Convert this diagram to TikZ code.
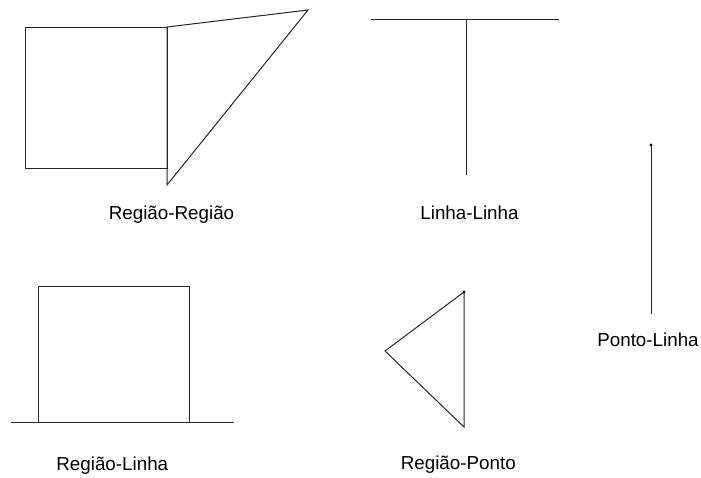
\documentclass[tikz,border=0pt]{standalone}
\usepackage{fontspec}
\setmainfont{Liberation Sans}
\begin{document}
\begin{tikzpicture}[x=1pt,y=-1pt,
  stroke/.style={draw=black!85,line width=1pt,line join=miter},
  lbl/.style={anchor=base,inner sep=0pt,font=\fontsize{18.8}{22}\selectfont},
  dotpt/.style={fill=black,circle,inner sep=0pt,minimum size=3.4pt}]
\useasboundingbox (0,0) rectangle (701,477);
% Regiao-Regiao
\coordinate (sq1a) at (25,27);
\coordinate (sq1b) at (167,27);
\coordinate (sq1c) at (167,168);
\coordinate (sq1d) at (25,168);
\coordinate (tr1a) at (308,10);
\coordinate (tr1b) at (167,185);
\draw[stroke] (sq1a) -- (sq1b) -- (sq1c) -- (sq1d) -- cycle;
\draw[stroke] (sq1b) -- (tr1a) -- (tr1b) -- cycle;
\node[lbl] (l1) at (171.5,219) {Região-Região};
% Linha-Linha
\coordinate (h1) at (371,19);
\coordinate (h2) at (559,19);
\coordinate (v1) at (466,19);
\coordinate (v2) at (466,175);
\draw[stroke] (h1) -- (h2);
\draw[stroke] (v1) -- (v2);
\node[lbl] (l2) at (469.5,219) {Linha-Linha};
% Ponto-Linha
\node[dotpt] (p1) at (651,145) {};
\coordinate (pl2) at (651,314);
\draw[stroke] (p1.center) -- (pl2);
\node[lbl] (l3) at (648,346) {Ponto-Linha};
% Regiao-Linha
\coordinate (sq2a) at (38,286);
\coordinate (sq2b) at (189,286);
\coordinate (sq2c) at (189,422);
\coordinate (sq2d) at (38,422);
\coordinate (ln1) at (11,422);
\coordinate (ln2) at (234,422);
\draw[stroke] (sq2d) -- (sq2a) -- (sq2b) -- (sq2c);
\draw[stroke] (ln1) -- (ln2);
\node[lbl] (l4) at (112.3,470) {Região-Linha};
% Regiao-Ponto
\node[dotpt] (p2) at (464,292) {};
\coordinate (tr2b) at (385,351);
\coordinate (tr2c) at (464,427);
\draw[stroke] (p2.center) -- (tr2b) -- (tr2c) -- cycle;
\node[lbl] (l5) at (458.3,469) {Região-Ponto};
\end{tikzpicture}
\end{document}
